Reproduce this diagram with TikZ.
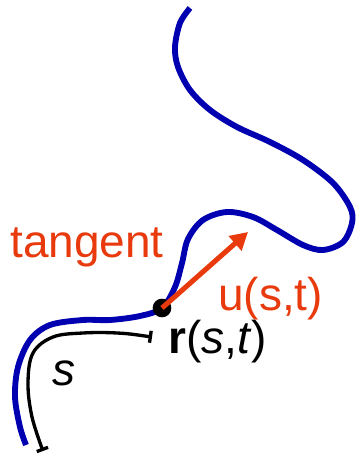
\documentclass[tikz,border=0pt]{standalone}
\usepackage{fontspec}
\setmainfont{Liberation Sans}
\usetikzlibrary{arrows.meta}
\definecolor{kurve}{HTML}{0000B0}
\definecolor{tangente}{HTML}{E83A0C}
\newcommand{\gross}{\fontsize{34.5}{40}\selectfont}

\begin{document}
\begin{tikzpicture}[x=0.75pt, y=-0.75pt]
    \useasboundingbox (0,0) rectangle (358,459);

    % Curve r(s,t)
    \draw[kurve, line width=4.4pt] plot[smooth, tension=0.55] coordinates {
        (26,445) (20,427) (15,397) (18,367) (30,340) (50,325) (83,320)
        (110,320) (140,316) (162,308) (175,287) (182,263) (188,239)
        (203,220) (227,212) (253,217) (277,230) (303,245) (323,250)
        (343,242) (352,223) (350,207) (333,183) (303,160) (270,142)
        (237,127) (210,110) (190,90) (178,67) (175,47) (180,23) (190,8)};

    % Arc length s
    \draw[{Bar[width=9pt]}-{Bar[width=9pt]}, line width=2.5pt] plot[smooth, tension=0.6] coordinates {
        (152,337) (117,333) (83,333) (53,337) (33,353) (28,383) (32,417) (43,451)};

    % Point
    \node[circle, fill=black, inner sep=0pt, minimum size=14pt] (r) at (162,308) {};

    % Tangent vector
    \coordinate (utip) at (248,232);
    \draw[-{Triangle[length=13pt, width=14pt]}, line width=3.8pt, tangente] (r.center) -- (utip);

    % Labels
    \node[anchor=base west, inner sep=0pt, tangente] (tangent) at (10,257) {\gross tangent};
    \node[anchor=base west, inner sep=0pt, tangente] (ulabel) at (218,310) {\gross u(s,t)};
    \node[anchor=base west, inner sep=0pt] (rlabel) at (168,353) {\gross\textbf{r}(\textit{s},\textit{t})};
    \node[anchor=base west, inner sep=0pt] (slabel) at (52,385) {\gross\textit{s}};
\end{tikzpicture}
\end{document}
